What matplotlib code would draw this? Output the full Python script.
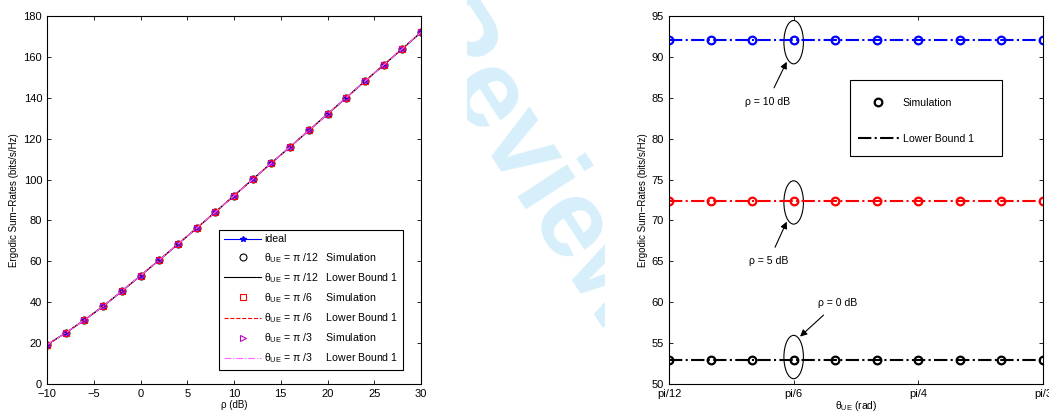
# ergodic sum-rates vs SNR and vs UE angle

import numpy as np
import matplotlib.pyplot as plt
from matplotlib.patches import Ellipse, Rectangle

plt.rcParams['font.family'] = ['Liberation Sans', 'DejaVu Sans']
plt.rcParams['mathtext.fontset'] = 'custom'
plt.rcParams['mathtext.rm'] = 'Liberation Sans'
plt.rcParams['mathtext.it'] = 'Liberation Sans:italic'

# SECTION 1 : DATA
#-----------------------------------------------

rho_db = [-10, -8, -6, -4, -2, 0, 2, 4, 6, 8, 10, 12, 14, 16, 18, 20, 22, 24, 26, 28, 30]
rate_ideal = [19.2, 25.0, 31.3, 38.0, 45.4, 53.0, 60.6, 68.4, 76.2, 84.1, 92.1,
              100.1, 108.1, 116.0, 124.0, 132.0, 140.0, 148.1, 156.0, 164.0, 172.0]
rate_pi12 = rate_ideal
rate_pi6 = rate_ideal
rate_pi3 = rate_ideal

theta = np.pi/12 + np.arange(10)*np.pi/36   # pi/12 ... pi/3
rate_10db = [92.1]*10
rate_5db = [72.4]*10
rate_0db = [52.9]*10

theta_ticks = [np.pi/12, np.pi/6, np.pi/4, np.pi/3]
theta_ticklabels = ['pi/12', 'pi/6', 'pi/4', 'pi/3']

ylab = 'Ergodic Sum\u2212Rates (bits/s/Hz)'

# SECTION 2 : FIGURE
#-----------------------------------------------

fig = plt.figure(figsize=(10.49, 4.16), dpi=100)

# watermark in the gap between the panels
wm = fig.text(527/1049, 1-170/416, 'Review', color='#d6effb', fontsize=80,
              fontweight='bold', rotation=-57, ha='center', va='center', zorder=0)
wm.set_clip_path(Rectangle((467, 0), 138, 416, transform=None))

ax1 = fig.add_axes([47/1049, 32/416, 374/1049, 368/416])
ax2 = fig.add_axes([669/1049, 32/416, 374/1049, 368/416])

for ax in (ax1, ax2):
    ax.tick_params(direction='in', top=True, right=True, labelsize=8, length=3, width=0.6)
    for s in ax.spines.values():
        s.set_linewidth(0.8)

# left panel
ax1.plot(rho_db, rate_ideal, color='b', marker='*', ms=4, lw=0.8, label='ideal')
ax1.plot(rho_db, rate_pi12, 'o', color='k', ms=5, mfc='none', mew=0.8,
         label='θ$_{\\rm UE}$ = π /12   Simulation')
ax1.plot(rho_db, rate_pi12, '-', color='k', lw=0.8,
         label='θ$_{\\rm UE}$ = π /12   Lower Bound 1')
ax1.plot(rho_db, rate_pi6, 's', color='r', ms=5, mfc='none', mew=0.8,
         label='θ$_{\\rm UE}$ = π /6     Simulation')
ax1.plot(rho_db, rate_pi6, '--', color='r', lw=0.8,
         label='θ$_{\\rm UE}$ = π /6     Lower Bound 1')
ax1.plot(rho_db, rate_pi3, '>', color='m', ms=5, mfc='none', mew=0.8,
         label='θ$_{\\rm UE}$ = π /3     Simulation')
ax1.plot(rho_db, rate_pi3, '-.', color='#ff66ff', lw=0.8,
         label='θ$_{\\rm UE}$ = π /3     Lower Bound 1')

ax1.set_xlim(-10, 30)
ax1.set_ylim(0, 180)
ax1.set_xticks(range(-10, 31, 5))
ax1.set_yticks(range(0, 181, 20))
ax1.set_xticklabels([str(v).replace('-', '\u2212') for v in range(-10, 31, 5)])
ax1.set_xlabel('ρ (dB)', fontsize=7, labelpad=1)
ax1.set_ylabel(ylab, fontsize=7, labelpad=3)
leg1 = ax1.legend(loc='lower right', bbox_to_anchor=(0.952, 0.038), fontsize=7.6,
                  fancybox=False, edgecolor='k', framealpha=1, handlelength=3.5,
                  handletextpad=0.3, labelspacing=0.6, borderpad=0.45, borderaxespad=0)
leg1.get_frame().set_linewidth(0.8)

# right panel
for r, c in ((rate_10db, 'b'), (rate_5db, 'r'), (rate_0db, 'k')):
    ax2.plot(theta, r, '-.', color=c, lw=1.5, marker='o', ms=5.5, mfc='none', mew=1.6)

ax2.plot([], [], 'o', color='k', ms=5.5, mfc='none', mew=1.6, label='Simulation')
ax2.plot([], [], '-.', color='k', lw=1.5, label='Lower Bound 1')

# ellipses and arrows marking the SNR values
for yc in (91.8, 72.2, 53.3):
    ax2.add_patch(Ellipse((np.pi/6, yc), 0.041, 5.3, fill=False, ec='k', lw=0.8))

arrow = dict(arrowstyle='-|>', color='k', lw=0.8, shrinkA=5, shrinkB=0, mutation_scale=10)
ax2.annotate('ρ = 10 dB', xy=(0.509, 89.4), xytext=(0.468, 84.5), fontsize=7.6,
             ha='center', va='center', arrowprops=arrow)
ax2.annotate('ρ = 5 dB', xy=(0.509, 69.85), xytext=(0.471, 65.0), fontsize=7.6,
             ha='center', va='center', arrowprops=arrow)
ax2.annotate('ρ = 0 dB', xy=(0.537, 55.8), xytext=(0.615, 59.95), fontsize=7.6,
             ha='center', va='center', arrowprops=arrow)

ax2.set_xlim(np.pi/12, np.pi/3)
ax2.set_ylim(50, 95)
ax2.set_xticks(theta_ticks)
ax2.set_xticklabels(theta_ticklabels)
ax2.set_yticks(range(50, 96, 5))
ax2.set_xlabel('θ$_{\\rm UE}$ (rad)', fontsize=7.5, labelpad=0)
ax2.set_ylabel(ylab, fontsize=7, labelpad=3)

# legend box is wider than its entries, so the frame is drawn separately
ax2.add_patch(Rectangle((0.484, 0.620), 0.406, 0.206, transform=ax2.transAxes,
                        fill=True, fc='w', ec='k', lw=0.8, zorder=4))
leg2 = ax2.legend(loc='upper left', bbox_to_anchor=(0.505, 0.778), fontsize=7.6,
                  frameon=False, handlelength=3.9, handletextpad=0.35,
                  labelspacing=2.5, borderpad=0, borderaxespad=0)
leg2.set_zorder(5)

fig.savefig('out.png', dpi=100)
